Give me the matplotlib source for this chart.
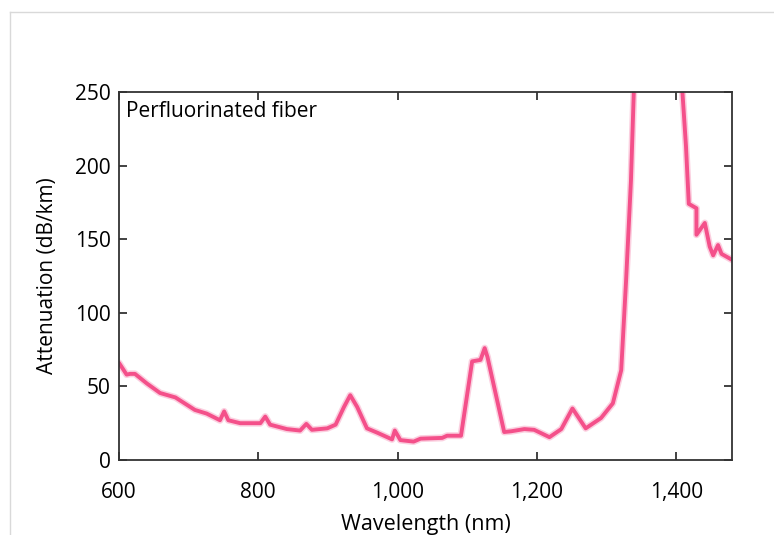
import numpy as np
import matplotlib.pyplot as plt
from matplotlib.lines import Line2D
from matplotlib.ticker import FuncFormatter

plt.rcParams['font.family'] = ['Open Sans', 'DejaVu Sans']

# attenuation spectrum (nm, dB/km)
wavelength = [600, 611, 616, 623, 640, 659, 681, 709, 726, 745, 751, 757,
              774, 803, 810, 817, 841, 860, 869, 877, 899, 911, 923, 932,
              942, 956, 971, 992, 996, 1004, 1023, 1033, 1064, 1071, 1091,
              1107, 1119, 1125, 1129, 1153, 1163, 1182, 1196, 1218, 1235,
              1251, 1270, 1292, 1309, 1321, 1328, 1335, 1339, 1345, 1400,
              1409, 1414, 1418, 1429, 1429, 1441, 1448, 1453, 1460, 1465,
              1480]
attenuation = [66, 58, 58.5, 58.5, 52, 45.5, 42.5, 34, 31.5, 27, 33, 27,
               25, 25, 29.5, 24, 21, 20, 24.5, 20.5, 21.5, 24, 36, 44,
               36, 21.5, 18.5, 14, 20, 13.5, 12.5, 14.5, 15, 16.5, 16.5,
               67, 68, 76, 70, 19, 19.5, 21, 20.5, 15.5, 21,
               35, 21.5, 28.5, 38.5, 61, 122, 190, 249, 300, 300,
               249, 213, 174, 171, 153, 161, 145, 139, 146, 140,
               136]

fig = plt.figure(figsize=(7.74, 5.35), dpi=100)
ax = fig.add_axes([0.1537, 0.1402, 0.7920, 0.6879])

pink = '#f4508a'
ax.plot(wavelength, attenuation, color='#f9b0cb', lw=5.0, alpha=0.6,
        solid_joinstyle='round', solid_capstyle='round')
ax.plot(wavelength, attenuation, color=pink, lw=2.8,
        solid_joinstyle='round', solid_capstyle='round')

ax.set_xlim(600, 1480)
ax.set_ylim(0, 250)
ax.set_xticks([600, 800, 1000, 1200, 1400])
ax.set_yticks([0, 50, 100, 150, 200, 250])
ax.xaxis.set_major_formatter(FuncFormatter(lambda v, p: f'{int(v):,}'))

for s in ax.spines.values():
    s.set_color('#333333')
    s.set_linewidth(1.3)
ax.tick_params(direction='in', length=6, width=1.3, color='#333333',
               labelsize=15, top=True, right=True, pad=6)
ax.tick_params(axis='x', pad=16)

ax.set_xlabel('Wavelength (nm)', fontsize=15.5, labelpad=8)
ax.set_ylabel('Attenuation (dB/km)', fontsize=15, labelpad=12)

ax.text(0.012, 0.975, 'Perfluorinated fiber', transform=ax.transAxes,
        fontsize=15, va='top', ha='left')

# light frame around the figure
fig.add_artist(Line2D([10 / 774, 10 / 774], [0, 1 - 12 / 535],
                      transform=fig.transFigure, color='#d9d9d9', lw=1))
fig.add_artist(Line2D([10 / 774, 1], [1 - 12 / 535, 1 - 12 / 535],
                      transform=fig.transFigure, color='#d9d9d9', lw=1))

fig.savefig('out.png', dpi=100)
